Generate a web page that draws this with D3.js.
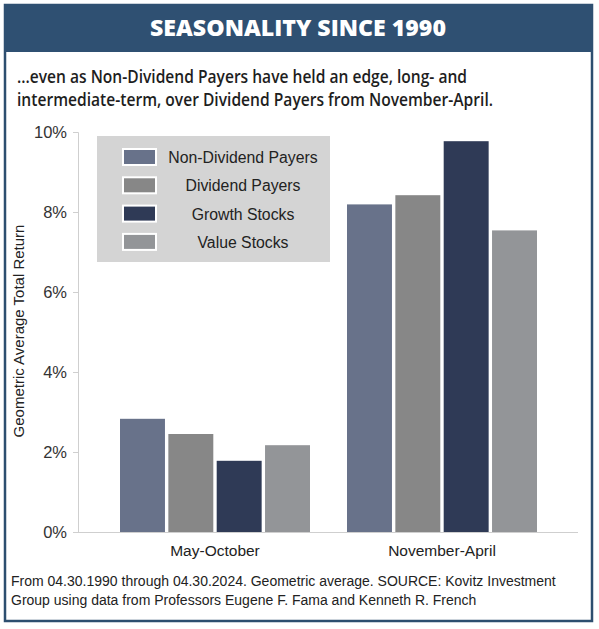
<!DOCTYPE html>
<html>
<head>
<meta charset="utf-8">
<script src="https://cdn.jsdelivr.net/npm/d3@7"></script>
<style>
  html, body { margin: 0; padding: 0; background: #fff; }
  svg { display: block; }
</style>
</head>
<body>
<svg id="chart" width="599" height="629"></svg>
<script>
const title = "SEASONALITY SINCE 1990";
const subtitleLines = [
  "...even as Non-Dividend Payers have held an edge, long- and",
  "intermediate-term, over Dividend Payers from November-April."
];
const footnoteLines = [
  "From 04.30.1990 through 04.30.2024. Geometric average. SOURCE: Kovitz Investment",
  "Group using data from Professors Eugene F. Fama and Kenneth R. French"
];
const yAxisTitle = "Geometric Average Total Return";
const categories = ["May-October", "November-April"];
const seriesNames = ["Non-Dividend Payers", "Dividend Payers", "Growth Stocks", "Value Stocks"];
const seriesColors = ["#68728a", "#878787", "#2f3a56", "#939598"];
const nonDividend = [2.83, 8.19];
const dividend = [2.45, 8.42];
const growth = [1.78, 9.77];
const value = [2.17, 7.54];
const yTicks = [0, 2, 4, 6, 8, 10];

const seriesValues = [nonDividend, dividend, growth, value];
const data = categories.map((c, i) => ({
  category: c,
  values: seriesNames.map((s, j) => ({ series: s, value: seriesValues[j][i], color: seriesColors[j] }))
}));

const svg = d3.select("#chart");
const font = "'Liberation Sans', Arial, sans-serif";
const headFont = "'Open Sans', 'Lato', sans-serif";

// Frame
svg.append("rect").attr("x", 5).attr("y", 5).attr("width", 587).attr("height", 616)
  .attr("fill", "#fff").attr("stroke", "#2d4e6f").attr("stroke-width", 2.5);
svg.append("rect").attr("x", 4).attr("y", 4).attr("width", 589).attr("height", 48)
  .attr("fill", "#2f5072");
svg.append("text").attr("x", 298).attr("y", 36).attr("text-anchor", "middle")
  .attr("font-family", headFont).attr("font-weight", 800).attr("font-size", 22)
  .attr("fill", "#fff").attr("textLength", 296).attr("lengthAdjust", "spacingAndGlyphs")
  .text(title);

svg.selectAll("text.sub").data(subtitleLines).enter().append("text")
  .attr("class", "sub").attr("x", 17).attr("y", (d, i) => 83 + i * 23)
  .attr("font-family", headFont).attr("font-weight", 600).attr("font-size", 17.5)
  .attr("fill", "#1e1e1e")
  .attr("textLength", (d, i) => i === 0 ? 450 : 476).attr("lengthAdjust", "spacingAndGlyphs")
  .text(d => d);

// Scales
const y = d3.scaleLinear().domain([0, 10]).range([532, 132]);
const x0 = d3.scaleBand().domain(categories).range([101.5, 555.5])
  .paddingInner(0.163).paddingOuter(0.0815);
const x1 = d3.scaleBand().domain(seriesNames).range([0, x0.bandwidth()]).paddingInner(0.07);

// Y axis
const yAxis = d3.axisLeft(y).tickValues(yTicks).tickSize(5).tickPadding(6)
  .tickFormat(d => d + "%");
const yg = svg.append("g").attr("transform", "translate(78,0)").call(yAxis);
yg.select(".domain").attr("stroke", "#cfcfcf").attr("d", "M-5,132.5H0.5V532.5");
yg.selectAll(".tick line").attr("stroke", "#cfcfcf");
yg.selectAll(".tick text").attr("font-family", font).attr("font-size", 16.5).attr("fill", "#333");

// baseline
svg.append("line").attr("x1", 78).attr("x2", 578).attr("y1", y(0) + 0.5).attr("y2", y(0) + 0.5)
  .attr("stroke", "#cfcfcf");

// Bars
const groups = svg.selectAll("g.grp").data(data).enter().append("g")
  .attr("class", "grp").attr("transform", d => `translate(${x0(d.category)},0)`);
groups.selectAll("rect").data(d => d.values).enter().append("rect")
  .attr("x", d => x1(d.series)).attr("width", x1.bandwidth())
  .attr("y", d => y(d.value)).attr("height", d => y(0) - y(d.value))
  .attr("fill", d => d.color);

// Category labels
svg.selectAll("text.cat").data(categories).enter().append("text")
  .attr("class", "cat").attr("x", d => x0(d) + x0.bandwidth() / 2).attr("y", 556)
  .attr("text-anchor", "middle").attr("font-family", font).attr("font-size", 15.5)
  .attr("fill", "#222").text(d => d);

// Y axis title
svg.append("text").attr("transform", "translate(24,331) rotate(-90)")
  .attr("text-anchor", "middle").attr("font-family", font).attr("font-size", 15)
  .attr("fill", "#222").text(yAxisTitle);

// Legend
const lg = svg.append("g");
lg.append("rect").attr("x", 97).attr("y", 136).attr("width", 233).attr("height", 126).attr("fill", "#d4d4d4");
const rows = lg.selectAll("g.row").data(seriesNames).enter().append("g")
  .attr("class", "row").attr("transform", (d, i) => `translate(0,${149 + i * 28.3})`);
rows.append("rect").attr("x", 123).attr("y", 0).attr("width", 33).attr("height", 16)
  .attr("fill", (d, i) => seriesColors[i]).attr("stroke", "#fff").attr("stroke-width", 2);
rows.append("text").attr("x", 243).attr("y", 14).attr("text-anchor", "middle")
  .attr("font-family", font).attr("font-size", 15.8).attr("fill", "#222").text(d => d);

// Footnote
svg.selectAll("text.foot").data(footnoteLines).enter().append("text")
  .attr("class", "foot").attr("x", 11).attr("y", (d, i) => 586 + i * 19)
  .attr("font-family", font).attr("font-size", 14).attr("fill", "#222")
  .text(d => d);
</script>
</body>
</html>
